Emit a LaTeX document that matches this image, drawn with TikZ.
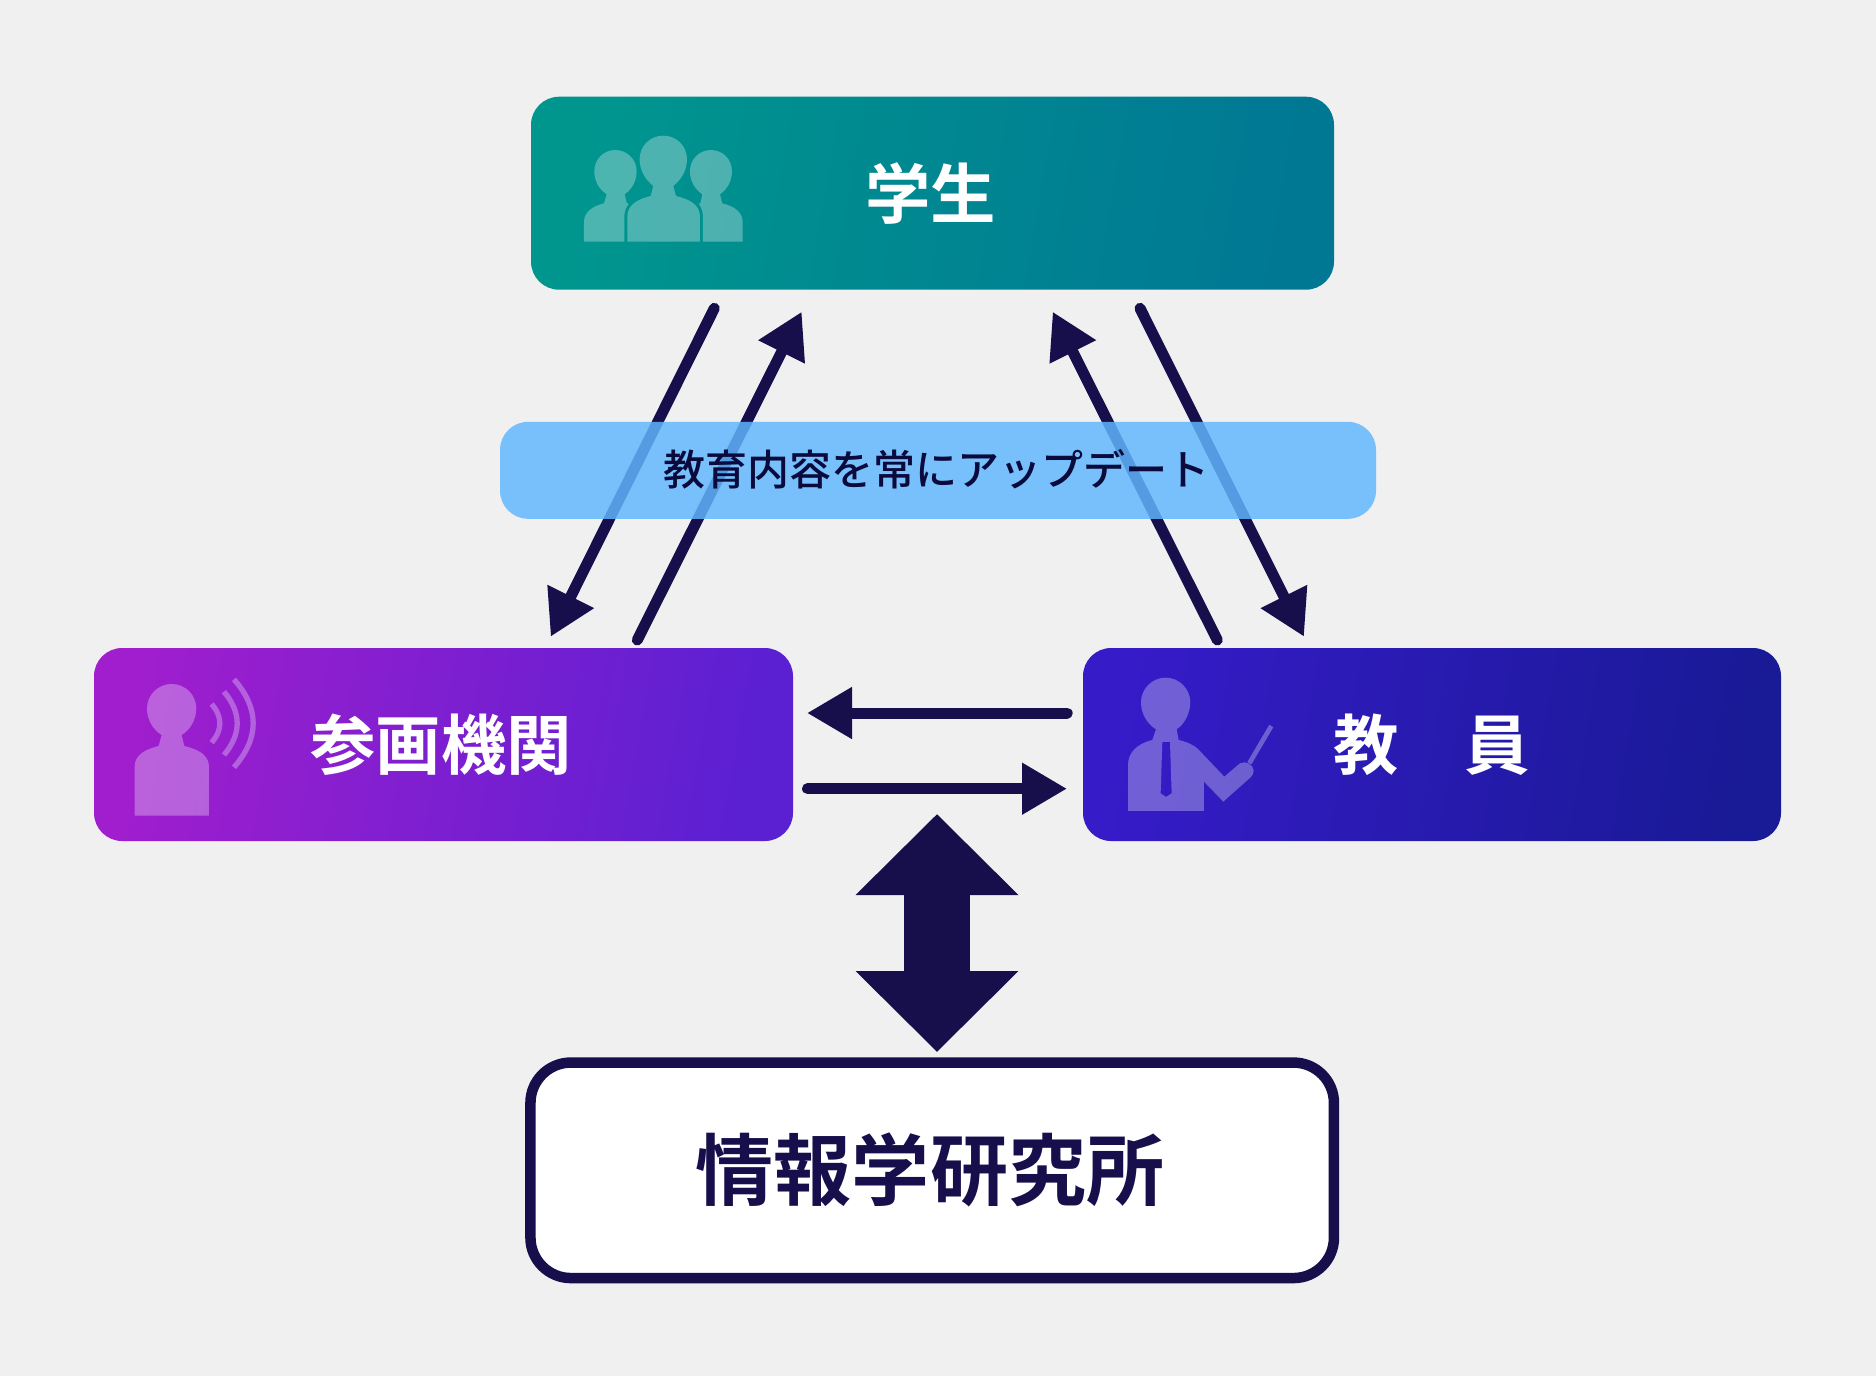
\documentclass[tikz,border=0pt]{standalone}
\usepackage{fontspec}
\setmainfont[BoldFont={Noto Sans CJK JP Bold}]{Noto Sans CJK JP}
\newfontfamily\jpmed{Noto Sans CJK JP Medium}
\usetikzlibrary{arrows.meta}
\definecolor{pagebg}{RGB}{240,240,240}
\definecolor{navy}{RGB}{22,15,75}
\definecolor{bandblue}{RGB}{97,183,255}
\definecolor{bandtext}{RGB}{10,10,60}
\definecolor{tealA}{RGB}{0,150,142}
\definecolor{tealB}{RGB}{0,120,148}
\definecolor{violetA}{RGB}{160,30,206}
\definecolor{violetB}{RGB}{90,32,210}
\definecolor{indigoA}{RGB}{54,27,200}
\definecolor{indigoB}{RGB}{25,26,150}
\tikzset{
  rolebox/.style={rounded corners=8pt, minimum width=#1, minimum height=1.93cm, inner sep=0pt, text=white, font=\bfseries\fontsize{18.6}{20}\selectfont},
  flow/.style={-{Triangle[length=0.45cm,width=0.49cm]}, line width=0.11cm, line cap=round, navy},
  twoway/.style={{Triangle[length=0.81cm,width=1.58cm]}-{Triangle[length=0.81cm,width=1.58cm]}, line width=0.66cm, navy},
  iconfill/.style={fill=white, fill opacity=0.3},
  iconline/.style={draw=white, draw opacity=0.3},
  zoomed/.style={x=0.03333mm, y=-0.03333mm}
}

\begin{document}
\begin{tikzpicture}[x=1cm, y=-1cm]
  \useasboundingbox[fill=pagebg] (0,0) rectangle (18.76,13.76);

  % Connector ends
  \coordinate (st2sa) at (7.143,3.083);
  \coordinate (sa2stEnd) at (5.507,6.367);
  \coordinate (sa2st) at (6.373,6.400);
  \coordinate (st2saEnd) at (8.017,3.117);
  \coordinate (te2st) at (12.173,6.400);
  \coordinate (te2stEnd) at (10.527,3.117);
  \coordinate (st2te) at (11.400,3.083);
  \coordinate (st2teEnd) at (13.040,6.367);
  \coordinate (te2sa) at (10.672,7.130);
  \coordinate (te2saEnd) at (8.070,7.130);
  \coordinate (sa2te) at (8.075,7.887);
  \coordinate (sa2teEnd) at (10.670,7.887);
  \coordinate (bigtop) at (9.370,8.140);
  \coordinate (bigbot) at (9.370,10.520);

  % Arrows go under the band
  \draw[flow] (st2sa) -- (sa2stEnd);
  \draw[flow] (sa2st) -- (st2saEnd);
  \draw[flow] (te2st) -- (te2stEnd);
  \draw[flow] (st2te) -- (st2teEnd);
  \draw[flow] (te2sa) -- (te2saEnd);
  \draw[flow] (sa2te) -- (sa2teEnd);
  \draw[twoway] (bigtop) -- (bigbot);

  % Update band
  \node[fill=bandblue, fill opacity=0.84, text opacity=1, rounded corners=8pt, minimum width=8.76cm, minimum height=0.97cm, inner sep=0pt, text=bandtext, font=\jpmed\fontsize{11.95}{14}\selectfont] (band) at (9.38,4.703) {\raisebox{0.05cm}{教育内容を常にアップデート}\kern0.024cm};

  % Students
  \node[rolebox=8.03cm, left color=tealA, right color=tealB, shading angle=80] (student) at (9.325,1.932) {学生\kern0.036cm};
  \begin{scope}[shift={(5.2,0.8)}, zoomed]
    \path[iconfill] (400,318) .. controls (375,298) and (359,270) .. (359,238) .. controls (359,198) and (390,167) .. (430,167) .. controls (470,167) and (501,198) .. (501,238) .. controls (501,270) and (485,298) .. (460,318) -- (468,348) .. controls (510,358) and (540,375) .. (540,410) -- (540,485) -- (322,485) -- (322,410) .. controls (322,375) and (352,358) .. (392,348) -- cycle;
    \path[iconfill] (260,343) .. controls (238,328) and (223,305) .. (223,273) .. controls (223,238) and (251,210) .. (286,210) .. controls (321,210) and (350,238) .. (350,273) .. controls (350,305) and (335,328) .. (314,343) -- (320,368) -- (326,372) .. controls (318,382) and (313,395) .. (313,410) -- (313,485) -- (192,485) -- (192,425) .. controls (192,395) and (220,378) .. (252,370) -- cycle;
    \path[iconfill] (547,343) .. controls (526,328) and (510,305) .. (510,273) .. controls (510,238) and (538,210) .. (573,210) .. controls (608,210) and (636,238) .. (636,273) .. controls (636,305) and (621,328) .. (600,343) -- (607,370) .. controls (640,378) and (668,395) .. (668,425) -- (668,485) -- (549,485) -- (549,410) .. controls (549,395) and (544,382) .. (537,372) -- (542,368) -- cycle;
  \end{scope}

  % Partner organisations
  \node[rolebox=6.99cm, left color=violetA, right color=violetB, shading angle=80] (partner) at (4.435,7.445) {参画機関\kern0.048cm};
  \begin{scope}[shift={(0.9,6.4)}, zoomed]
    \path[iconfill] (215,285) .. controls (190,270) and (171,240) .. (171,205) .. controls (171,165) and (204,132) .. (245,132) .. controls (286,132) and (319,165) .. (319,205) .. controls (319,240) and (300,270) .. (275,285) -- (283,318) .. controls (325,328) and (357,345) .. (357,380) -- (357,527) -- (134,527) -- (134,380) .. controls (134,345) and (165,328) .. (206,318) -- cycle;
    \draw[iconline, line width=0.053cm] (432,118) .. controls (509,206) and (509,294) .. (432,382);
    \draw[iconline, line width=0.053cm] (402,155) .. controls (455,218) and (455,282) .. (402,345);
    \draw[iconline, line width=0.053cm] (365,192) .. controls (398,231) and (398,269) .. (365,308);
  \end{scope}

  % Teachers
  \node[rolebox=6.98cm, left color=indigoA, right color=indigoB, shading angle=80] (teacher) at (14.32,7.445) {教　員};
  \begin{scope}[shift={(10.8,6.4)}, zoomed]
    \path[iconfill, even odd rule] (228,268) .. controls (203,253) and (183,222) .. (183,187) .. controls (183,147) and (216,113) .. (257,113) .. controls (298,113) and (331,147) .. (331,187) .. controls (331,222) and (312,253) .. (290,268) -- (296,300) .. controls (322,306) and (342,315) .. (355,328) -- (433,410) -- (480,370) .. controls (497,360) and (521,375) .. (521,392) .. controls (521,400) and (518,406) .. (512,412) -- (430,485) -- (372,425) -- (372,513) -- (144,513) -- (144,375) .. controls (144,335) and (175,310) .. (217,300) -- cycle
      (247,306) -- (270,306) -- (275,460) -- (258,471) -- (242,460) -- cycle;
    \draw[iconline, line width=0.047cm] (508,370) -- (574,258);
  \end{scope}

  % Institute
  \node[draw=navy, line width=0.105cm, fill=white, rounded corners=11.5pt, minimum width=8.035cm, minimum height=2.155cm, inner sep=0pt, text=navy, font=\bfseries\fontsize{22.2}{26}\selectfont] (institute) at (9.322,11.703) {情報学研究所\kern0.044cm};
\end{tikzpicture}
\end{document}
